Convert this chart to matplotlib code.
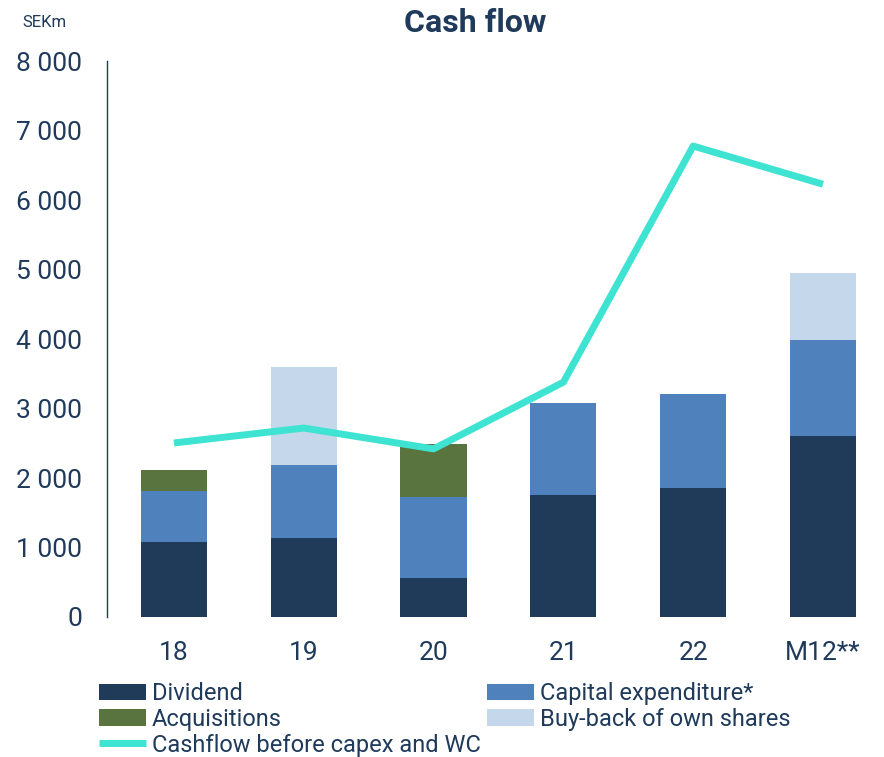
import matplotlib
matplotlib.use("Agg")
import matplotlib.pyplot as plt
import numpy as np
from matplotlib.ticker import FuncFormatter

plt.rcParams['font.family'] = ['Roboto', 'DejaVu Sans']

categories = ["18", "19", "20", "21", "22", "M12**"]
dividend = [1080, 1140, 560, 1755, 1855, 2605]
capex = [735, 1050, 1165, 1325, 1355, 1380]
acquisitions = [300, 0, 760, 0, 0, 0]
buyback = [0, 1410, 0, 0, 0, 965]
cashflow = [2505, 2720, 2420, 3380, 6780, 6230]

navy = "#1F3A5A"
c_div = "#203A5A"
c_capex = "#4F81BD"
c_acq = "#5A7440"
c_bb = "#C5D7EB"
c_line = "#3EE3D2"

fig = plt.figure(figsize=(8.84, 7.57), dpi=100)
ax = fig.add_axes([0.121, 0.185, 0.879, 0.734])

x = np.arange(len(categories))
w = 0.51
div = np.array(dividend); cap = np.array(capex); acq = np.array(acquisitions); bb = np.array(buyback)
b1 = ax.bar(x, div, w, color=c_div, label="Dividend")
b2 = ax.bar(x, cap, w, bottom=div, color=c_capex, label="Capital expenditure*")
b3 = ax.bar(x, acq, w, bottom=div + cap, color=c_acq, label="Acquisitions")
b4 = ax.bar(x, bb, w, bottom=div + cap + acq, color=c_bb, label="Buy-back of own shares")
l1, = ax.plot(x, cashflow, color=c_line, lw=5, solid_capstyle='butt', label="Cashflow before capex and WC")

ax.set_ylim(0, 8000)
ax.set_xlim(-0.516, 5.47)
ax.set_yticks(np.arange(0, 8001, 1000))
ax.yaxis.set_major_formatter(FuncFormatter(lambda v, p: f"{int(v):,}".replace(",", " ")))
ax.set_xticks(x)
ax.set_xticklabels(categories)
ax.tick_params(axis='both', length=0, labelsize=19, colors=navy)
ax.tick_params(axis='y', pad=18)
ax.tick_params(axis='x', pad=17)
for s in ['top', 'right', 'bottom']:
    ax.spines[s].set_visible(False)
ax.spines['left'].set_color(navy)
ax.spines['left'].set_linewidth(1)

fig.text(0.538, 0.969, "Cash flow", ha='center', va='center', fontsize=23, fontweight='bold', color=navy)
fig.text(0.025, 0.970, "SEKm", ha='left', va='center', fontsize=12, color=navy)

leg = fig.legend([b1, b3, l1, b2, b4],
                 ["Dividend", "Acquisitions", "Cashflow before capex and WC",
                  "Capital expenditure*", "Buy-back of own shares"],
                 ncol=2, loc='upper left', bbox_to_anchor=(0.112, 0.099), frameon=False,
                 fontsize=17, labelcolor=navy, handlelength=2.0, handletextpad=0.25,
                 labelspacing=0.12, columnspacing=0.25, borderpad=0, borderaxespad=0)

fig.savefig("out.png", dpi=100)
